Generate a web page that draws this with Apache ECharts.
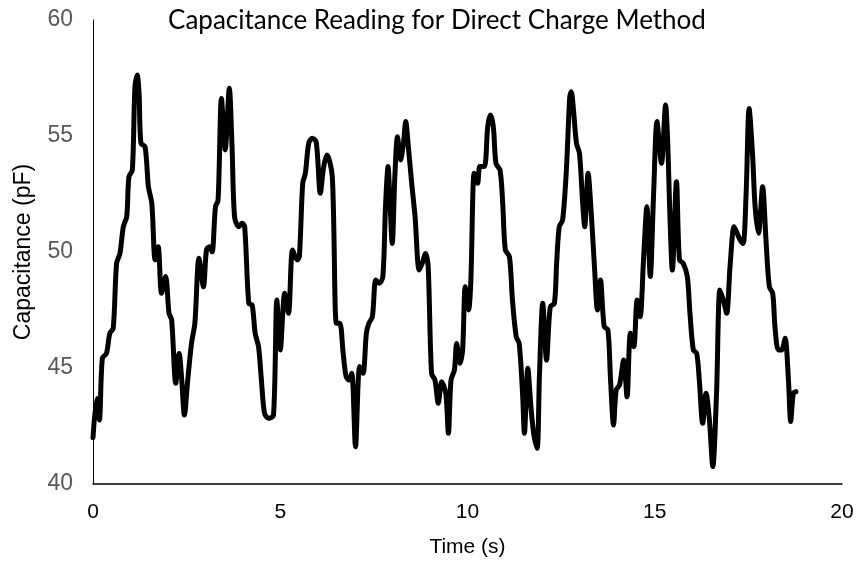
<!DOCTYPE html>
<html>
<head>
<meta charset="utf-8">
<script src="https://cdn.jsdelivr.net/npm/echarts@6/dist/echarts.min.js"></script>
<style>
html,body{margin:0;padding:0;background:#fff;}
#c{width:859px;height:563px;}
</style>
</head>
<body>
<div id="c"></div>
<script>
const chartTitle = 'Capacitance Reading for Direct Charge Method';
const xTitle = 'Time (s)';
const yTitle = 'Capacitance (pF)';
const xTicks = [0, 5, 10, 15, 20];
const yTicks = [40, 45, 50, 55, 60];

const times = [0.00,0.10,0.17,0.25,0.36,0.45,0.54,0.63,0.72,0.81,0.90,0.96,1.05,1.12,1.18,1.23,1.28,1.39,1.48,1.57,1.66,1.74,1.83,1.94,2.03,2.10,2.21,2.30,2.37,2.44,2.53,2.63,2.72,2.83,2.95,3.03,3.11,3.18,3.27,3.34,3.43,3.53,3.64,3.71,3.78,3.89,3.98,4.05,4.16,4.25,4.33,4.42,4.49,4.58,4.69,4.82,4.91,5.00,5.12,5.22,5.33,5.45,5.51,5.60,5.67,5.76,5.85,5.96,6.07,6.16,6.25,6.39,6.50,6.59,6.68,6.76,6.84,6.91,7.01,7.12,7.21,7.30,7.37,7.46,7.55,7.64,7.74,7.81,7.88,7.92,7.99,8.06,8.13,8.21,8.29,8.35,8.42,8.51,8.60,8.71,8.79,8.88,8.95,9.04,9.13,9.22,9.31,9.42,9.49,9.56,9.65,9.71,9.80,9.87,9.94,10.03,10.09,10.18,10.27,10.33,10.45,10.54,10.61,10.69,10.76,10.87,10.94,11.01,11.12,11.20,11.30,11.38,11.47,11.52,11.61,11.70,11.78,11.86,11.92,12.01,12.11,12.21,12.32,12.38,12.45,12.54,12.64,12.73,12.77,12.83,12.91,12.99,13.07,13.13,13.22,13.31,13.39,13.47,13.55,13.65,13.75,13.82,13.90,13.97,14.06,14.17,14.26,14.35,14.44,14.53,14.61,14.70,14.79,14.88,14.97,15.06,15.18,15.29,15.35,15.40,15.47,15.58,15.66,15.76,15.87,15.94,16.03,16.12,16.19,16.28,16.37,16.46,16.55,16.65,16.74,16.83,16.92,17.01,17.12,17.20,17.28,17.36,17.44,17.52,17.61,17.68,17.77,17.88,17.97,18.06,18.15,18.21,18.30,18.39,18.48,18.57,18.63,18.70,18.77];

const capacitance = [42.0,43.69,42.76,45.42,45.63,46.50,46.71,49.51,49.94,51.09,51.52,53.25,53.53,57.12,57.63,56.84,54.69,54.54,52.81,52.10,49.66,50.23,48.22,48.94,47.36,47.07,44.34,45.63,44.48,42.97,44.48,46.06,46.93,49.73,48.50,50.09,50.23,50.01,51.95,52.24,56.62,54.40,57.06,54.69,51.52,51.09,51.24,51.09,47.79,47.72,46.50,45.92,44.62,43.05,42.83,42.97,47.93,45.78,48.22,47.36,50.09,49.66,49.80,52.96,53.39,54.69,54.90,54.75,52.53,53.68,54.18,53.25,46.93,46.93,45.63,44.62,44.48,44.77,41.61,45.06,44.77,46.50,46.93,47.21,48.79,48.65,48.94,51.95,53.68,52.53,50.37,53.25,54.97,53.97,54.69,55.62,54.54,52.96,51.52,49.22,49.51,49.94,49.37,44.77,44.48,43.48,44.41,43.91,42.19,44.48,44.91,46.06,45.20,45.78,48.50,47.50,48.79,53.39,52.96,53.68,53.68,55.40,55.90,55.40,53.82,53.53,52.10,50.09,49.80,47.93,46.35,46.06,43.91,42.19,44.99,43.19,42.04,41.54,44.62,47.79,45.34,47.64,47.79,49.51,51.09,51.38,53.53,56.69,56.91,56.12,54.69,54.25,52.24,51.09,53.39,51.52,49.37,47.50,48.79,46.78,46.64,44.48,42.54,44.05,44.27,45.34,43.76,46.50,45.92,47.93,47.21,49.66,51.95,48.94,52.53,55.62,53.82,56.34,54.54,51.81,49.22,53.03,49.66,49.51,48.94,47.36,45.78,45.63,44.48,42.62,43.91,42.76,40.75,43.91,48.36,47.93,47.36,49.37,51.09,50.81,50.52,50.37,52.53,56.19,54.25,51.95,50.81,52.81,50.52,48.50,48.22,46.78,45.78,45.78,46.28,44.48,42.69,43.91,43.98];

const n = Math.min(times.length, capacitance.length);
const seriesData = [];
for (let i = 0; i < n; i++) seriesData.push([times[i], capacitance[i]]);

const chart = echarts.init(document.getElementById('c'), null, {renderer: 'canvas'});
chart.setOption({
  animation: false,
  backgroundColor: '#ffffff',
  graphic: [{
    type: 'text',
    x: 437, y: 21,
    style: {
      text: chartTitle,
      textAlign: 'center',
      textVerticalAlign: 'middle',
      fontFamily: 'Lato',
      fontSize: 26,
      fill: '#000000'
    }
  }],
  grid: {left: 93, right: 17, top: 20, bottom: 79, containLabel: false},
  xAxis: {
    type: 'value',
    min: xTicks[0], max: xTicks[xTicks.length - 1], interval: 5,
    name: xTitle,
    nameLocation: 'middle',
    nameGap: 53,
    nameTextStyle: {fontFamily: 'Liberation Sans', fontSize: 21, color: '#000000'},
    axisLine: {show: true, lineStyle: {color: '#000000', width: 1.5}},
    axisTick: {show: false},
    splitLine: {show: false},
    axisLabel: {fontFamily: 'Liberation Sans', fontSize: 21, color: '#000000', margin: 18}
  },
  yAxis: {
    type: 'value',
    min: yTicks[0], max: yTicks[yTicks.length - 1], interval: 5,
    name: yTitle,
    nameLocation: 'middle',
    nameGap: 58,
    nameRotate: 90,
    nameTextStyle: {fontFamily: 'Liberation Sans', fontSize: 23, color: '#000000'},
    axisLine: {show: true, lineStyle: {color: '#000000', width: 1}},
    axisTick: {show: false},
    splitLine: {show: false},
    axisLabel: {fontFamily: 'Liberation Sans', fontSize: 23, color: '#595959', margin: 20}
  },
  series: [{
    type: 'line',
    data: seriesData,
    smooth: 0.3,
    showSymbol: false,
    lineStyle: {color: '#000000', width: 5, join: 'round', cap: 'round'}
  }]
});
</script>
</body>
</html>
